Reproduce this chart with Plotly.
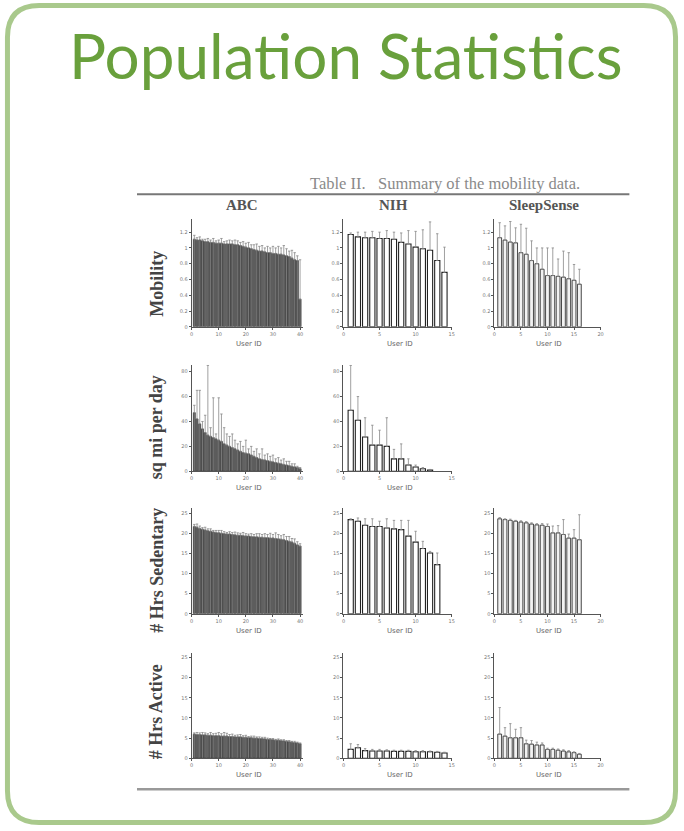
import plotly.graph_objects as go

W, H = 684, 831

# ---------------- data ----------------
users_abc = list(range(1, 41))
users_nih_mob = list(range(1, 15))
users_ss = list(range(1, 17))

abc_mob = [1.11,1.10,1.10,1.09,1.08,1.08,1.07,1.07,1.06,1.06,1.06,1.05,1.05,1.05,1.05,1.04,1.04,1.03,1.02,1.01,
           1.00,0.99,0.98,0.97,0.96,0.96,0.95,0.94,0.94,0.93,0.93,0.92,0.92,0.91,0.90,0.89,0.87,0.85,0.84,0.35]
abc_mob_err = [0.05,0.03,0.04,0.02,0.03,0.04,0.03,0.05,0.03,0.04,0.06,0.03,0.04,0.05,0.04,0.06,0.05,0.04,0.06,0.05,
               0.07,0.05,0.06,0.08,0.06,0.07,0.05,0.08,0.06,0.09,0.07,0.10,0.08,0.12,0.09,0.07,0.10,0.09,0.06,0.50]
nih_mob = [1.17,1.14,1.13,1.13,1.12,1.12,1.11,1.07,1.05,1.01,0.99,0.97,0.84,0.69]
nih_mob_err = [0.02,0.06,0.07,0.08,0.08,0.10,0.09,0.12,0.17,0.20,0.24,0.36,0.34,0.32]
ss_mob = [1.13,1.10,1.075,1.065,0.94,0.92,0.84,0.80,0.73,0.65,0.65,0.64,0.63,0.61,0.59,0.54]
ss_mob_err = [0.19,0.18,0.26,0.19,0.36,0.33,0.25,0.20,0.27,0.35,0.35,0.22,0.33,0.33,0.20,0.19]

abc_sq = [47,42,38,34,31,29,28,27,26,25,24,22,21,20,19,18,17,16,15,14.5,
          14,13,12,11,10,9.5,9,8.5,8,7.5,7,6.5,6,5.5,5,4.5,4,3.5,3,2]
abc_sq_top = [53,65,65,40,45,85,35,59,30,59,46,35,30,28,30,25,22,24,20,25,
              18,20,16,18,14,18,13,14,12,13,10,11,9,10,8,8,6,6,4,3]
users_nih_sq = list(range(1, 13))
nih_sq = [49,41,27.5,21,21,20,10,10,5,3.5,2,1]
nih_sq_top = [85,60,43,37,33,43,17.6,22,10,5,3,1.5]

abc_sed = [21.7,21.5,21.2,21.0,20.8,20.6,20.5,20.3,20.2,20.1,20.0,19.9,19.8,19.8,19.7,19.6,19.5,19.5,19.4,19.3,
           19.3,19.2,19.1,19.1,19.0,19.0,18.9,18.9,18.8,18.8,18.7,18.6,18.5,18.4,18.2,18.0,17.8,17.5,17.1,16.8]
abc_sed_err = [0.5,0.8,0.6,0.4,0.7,0.5,0.6,0.4,0.5,0.6,0.7,0.5,0.4,0.6,0.5,0.7,0.6,0.5,0.8,0.6,
               0.5,0.7,0.6,0.8,0.9,0.7,1.0,0.8,1.2,0.9,1.4,1.1,0.9,1.3,1.0,1.2,0.9,1.1,0.8,0.6]
users_nih_sed = list(range(1, 14))
nih_sed = [23.4,23.0,22.0,21.7,21.7,21.3,21.1,20.9,19.3,17.8,16.2,15.1,12.2]
nih_sed_err = [0.2,0.8,1.6,1.9,1.3,2.3,2.1,2.3,3.9,2.7,1.8,0.4,2.9]
ss_sed = [23.6,23.4,23.2,23.0,22.8,22.6,22.3,22.1,22.0,21.7,20.1,20.1,19.7,18.8,18.8,18.4]
ss_sed_err = [0.3,0.2,0.3,0.2,0.3,0.3,0.3,0.3,0.4,0.6,1.7,1.8,3.7,1.0,2.1,6.2]

abc_act = [6.0,5.9,5.9,5.8,5.8,5.7,5.7,5.6,5.6,5.6,5.5,5.5,5.5,5.4,5.4,5.3,5.3,5.3,5.2,5.2,
           5.1,5.1,5.0,5.0,4.9,4.9,4.8,4.7,4.7,4.6,4.5,4.5,4.4,4.3,4.2,4.1,4.0,3.9,3.8,3.6]
abc_act_err = [0.3,0.5,0.4,0.6,0.5,0.4,0.7,0.5,0.6,0.8,0.6,0.9,0.7,0.5,0.6,0.4,0.5,0.6,0.4,0.5,
               0.3,0.4,0.5,0.3,0.4,0.3,0.4,0.3,0.2,0.3,0.2,0.3,0.2,0.3,0.2,0.3,0.2,0.3,0.2,0.2]
nih_act = [2.2,2.6,1.9,1.8,1.8,1.8,1.7,1.7,1.7,1.6,1.6,1.6,1.5,1.3]
nih_act_err = [1.4,0.8,0.5,0.4,0.4,0.3,0.3,0.3,0.3,0.3,0.3,0.2,0.2,0.2]
ss_act = [6.0,5.5,5.1,5.1,5.1,3.6,3.5,3.3,3.3,2.2,2.2,2.0,1.8,1.6,1.4,1.0]
ss_act_err = [6.6,2.1,3.5,2.1,2.5,0.9,0.9,0.7,0.5,0.3,0.3,0.3,0.3,0.3,0.2,0.2]

mob_ticks = [0, 0.2, 0.4, 0.6, 0.8, 1.0, 1.2]
sq_ticks = [0, 20, 40, 60, 80]
hrs_ticks = [0, 5, 10, 15, 20, 25]

col_titles = ["ABC", "NIH", "SleepSense"]
row_titles = ["Mobility", "sq mi per day", "# Hrs Sedentary", "# Hrs Active"]
caption = "Table II.   Summary of the mobility data."
title_text = "Population Statistics"

# ---------------- layout helpers ----------------
def fx(x): return x / W
def fy(y): return 1 - y / H

col_px = [(191, 303), (344, 453), (496, 603)]
col_xrange = [[0, 41], [0, 15], [0, 20]]
col_xticks = [[0, 10, 20, 30, 40], [0, 5, 10, 15], [0, 5, 10, 15, 20]]
# (bottom, top_tick, domain_top, tick_max)
row_px = [(328, 233, 220, 1.2), (473, 373, 366, 80), (616, 515, 510, 25), (761, 660, 655, 25)]
row_ticks = [mob_ticks, sq_ticks, hrs_ticks, hrs_ticks]

bar_style = [
    dict(color="#7c7c7c", line=dict(color="#222", width=0.7)),
    dict(color="#ffffff", line=dict(color="#222", width=1.1)),
    dict(color="#f2f2f2", line=dict(color="#333", width=0.9)),
]

panels = [
    (0, 0, users_abc, abc_mob, abc_mob_err),
    (0, 1, users_nih_mob, nih_mob, nih_mob_err),
    (0, 2, users_ss, ss_mob, ss_mob_err),
    (1, 0, users_abc, abc_sq, [t - v for t, v in zip(abc_sq_top, abc_sq)]),
    (1, 1, users_nih_sq, nih_sq, [t - v for t, v in zip(nih_sq_top, nih_sq)]),
    (2, 0, users_abc, abc_sed, abc_sed_err),
    (2, 1, users_nih_sed, nih_sed, nih_sed_err),
    (2, 2, users_ss, ss_sed, ss_sed_err),
    (3, 0, users_abc, abc_act, abc_act_err),
    (3, 1, users_nih_mob, nih_act, nih_act_err),
    (3, 2, users_ss, ss_act, ss_act_err),
]

fig = go.Figure()
layout = {}
annotations = []
axis_common = dict(showline=True, linecolor="#555", linewidth=1, ticks="outside", ticklen=2,
                   tickcolor="#555", tickwidth=1, tickfont=dict(size=5, color="#777", family="DejaVu Sans"),
                   showgrid=False, zeroline=False, fixedrange=True)

def ann(text, x, y, size, color, family, angle=0):
    return dict(text=text, x=fx(x), y=fy(y), xref="paper", yref="paper", xanchor="center",
                yanchor="middle", showarrow=False, textangle=angle,
                font=dict(size=size, color=color, family=family))

for i, (r, c, xs, ys, es) in enumerate(panels, start=1):
    xk = "xaxis" if i == 1 else f"xaxis{i}"
    yk = "yaxis" if i == 1 else f"yaxis{i}"
    xr = "x" if i == 1 else f"x{i}"
    yr = "y" if i == 1 else f"y{i}"
    bottom, toptick, domtop, tmax = row_px[r]
    ytop = tmax * (bottom - domtop) / (bottom - toptick)
    x0, x1 = col_px[c]
    fig.add_trace(go.Bar(
        x=xs, y=ys, xaxis=xr, yaxis=yr, width=0.72,
        marker=bar_style[c],
        error_y=dict(type="data", array=es, arrayminus=[0] * len(es), symmetric=False,
                     color="#888", thickness=0.8, width=1.2),
        showlegend=False, hoverinfo="skip"))
    layout[xk] = dict(axis_common, domain=[fx(x0), fx(x1)], range=col_xrange[c],
                      tickvals=col_xticks[c], anchor=yr)
    layout[yk] = dict(axis_common, domain=[fy(bottom), fy(domtop)], range=[0, ytop],
                      tickvals=row_ticks[r], anchor=xr)
    annotations.append(ann("User ID", (x0 + x1) / 2 + 2, bottom + 17, 7, "#666", "DejaVu Sans"))

# text
annotations.append(ann(title_text, 346, 55, 62, "#69a03c", "Lato"))
annotations.append(ann(caption, 446, 184, 16.5, "#8a8a8a", "Liberation Serif"))
for t, cx in zip(col_titles, [242, 394, 546]):
    annotations.append(ann(f"<b>{t}</b>", cx, 206, 15, "#555", "Liberation Serif"))
for t, cy in zip(row_titles, [285, 429, 572, 714]):
    annotations.append(ann(f"<b>{t}</b>", 156, cy, 18, "#444", "Liberation Serif", -90))

# shapes: slide border and table rules
r0 = 32
L, T, R, B = 5.5, 5.5, 678.5, 825.5
path = (f"M {fx(L + r0)},{fy(T)} L {fx(R - r0)},{fy(T)} Q {fx(R)},{fy(T)} {fx(R)},{fy(T + r0)} "
        f"L {fx(R)},{fy(B - r0)} Q {fx(R)},{fy(B)} {fx(R - r0)},{fy(B)} "
        f"L {fx(L + r0)},{fy(B)} Q {fx(L)},{fy(B)} {fx(L)},{fy(B - r0)} "
        f"L {fx(L)},{fy(T + r0)} Q {fx(L)},{fy(T)} {fx(L + r0)},{fy(T)} Z")
shapes = [
    dict(type="path", path=path, xref="paper", yref="paper", line=dict(color="#a9c98c", width=5)),
    dict(type="line", x0=fx(136), x1=fx(632), y0=fy(195), y1=fy(195), xref="paper", yref="paper",
         line=dict(color="#777", width=2)),
    dict(type="line", x0=fx(136), x1=fx(632), y0=fy(792), y1=fy(792), xref="paper", yref="paper",
         line=dict(color="#999", width=2.5)),
]

fig.update_layout(width=W, height=H, autosize=False, margin=dict(l=0, r=0, t=0, b=0),
                  paper_bgcolor="white", plot_bgcolor="white", bargap=0.2,
                  annotations=annotations, shapes=shapes, **layout)

fig.write_html("out.html", config={"displayModeBar": False},
               post_script="document.body.style.margin='0px';document.body.style.overflow='hidden';")
